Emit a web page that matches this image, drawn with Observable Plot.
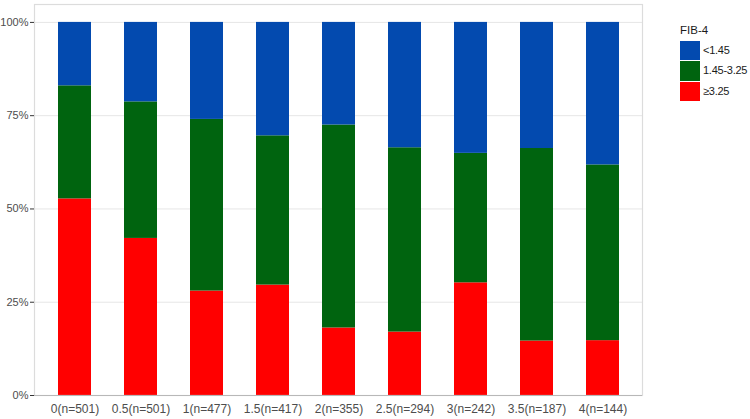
<!DOCTYPE html>
<html>
<head>
<meta charset="utf-8">
<script src="https://cdn.jsdelivr.net/npm/d3@7"></script>
<script src="https://cdn.jsdelivr.net/npm/@observablehq/plot@0.6"></script>
<style>
  html, body { margin: 0; padding: 0; background: #fff; }
  #wrap { position: relative; width: 750px; height: 419px; font-family: "Liberation Sans", Arial, sans-serif; }
  #legend { position: absolute; left: 680px; top: 24px; font-size: 11px; line-height: 13px; color: #1a1a1a; white-space: nowrap; }
  #legend .title { font-size: 11.5px; height: 16px; }
  #legend .item { display: flex; align-items: center; height: 20.6px; }
  #legend .sw { width: 19.5px; height: 19.6px; margin-right: 3.5px; flex: none; }
  #legend .item span { letter-spacing: -0.25px; }
</style>
</head>
<body>
<div id="wrap"><div id="legend"></div></div>
<script>
const cutoffs = ["0", "0.5", "1", "1.5", "2", "2.5", "3", "3.5", "4"];
const counts = [501, 501, 477, 417, 355, 294, 242, 187, 144];
const groups = ["≥3.25", "1.45-3.25", "<1.45"];
const groupColors = ["#ff0000", "#00640f", "#034aaf"];
const legendOrder = ["<1.45", "1.45-3.25", "≥3.25"];
const pctHigh = [52.7, 42.1, 28.0, 29.6, 18.1, 17.0, 30.2, 14.6, 14.7];
const pctMid  = [30.3, 36.6, 46.0, 40.0, 54.4, 49.4, 34.7, 51.6, 47.1];
const pctLow  = [17.0, 21.3, 26.0, 30.4, 27.5, 33.6, 35.1, 33.8, 38.2];
const yTicks = [0, 25, 50, 75, 100];

const labels = cutoffs.map((c, i) => `${c}(n=${counts[i]})`);
const series = [pctHigh, pctMid, pctLow];
const rows = [];
labels.forEach((lab, i) => {
  groups.forEach((g, j) => rows.push({label: lab, group: g, value: series[j][i]}));
});

const chart = Plot.plot({
  width: 750,
  height: 419,
  marginLeft: 34,
  marginRight: 108,
  marginTop: 4,
  marginBottom: 24,
  style: {fontFamily: "Liberation Sans, Arial, sans-serif", fontSize: "11px", background: "#fff"},
  x: {domain: labels, paddingInner: 0.5, paddingOuter: 0.35, label: null},
  y: {domain: [0, 104.8], label: null},
  color: {domain: groups, range: groupColors},
  marks: [
    Plot.ruleY(yTicks, {stroke: "#e6e6e6", strokeWidth: 1}),
    Plot.barY(rows, {x: "label", y: "value", fill: "group", order: null}),
    Plot.frame({stroke: "#dcdcdc", strokeWidth: 1.2}),
    Plot.ruleY([0], {stroke: "#b8b8b8", strokeWidth: 1.2}),
    Plot.axisY({ticks: yTicks, tickFormat: d => d + "%", tickSize: 4, tickPadding: 2, stroke: "#333", color: "#4d4d4d", fontSize: 11, label: null}),
    Plot.axisX({tickSize: 0, tickPadding: 9, color: "#4d4d4d", fontSize: 12, label: null})
  ]
});
document.getElementById("wrap").prepend(chart);

const legend = document.getElementById("legend");
const t = document.createElement("div");
t.className = "title";
t.textContent = "FIB-4";
legend.appendChild(t);
legendOrder.forEach(g => {
  const it = document.createElement("div");
  it.className = "item";
  const sw = document.createElement("div");
  sw.className = "sw";
  sw.style.background = groupColors[groups.indexOf(g)];
  const tx = document.createElement("span");
  tx.textContent = g;
  it.appendChild(sw);
  it.appendChild(tx);
  legend.appendChild(it);
});
</script>
</body>
</html>
